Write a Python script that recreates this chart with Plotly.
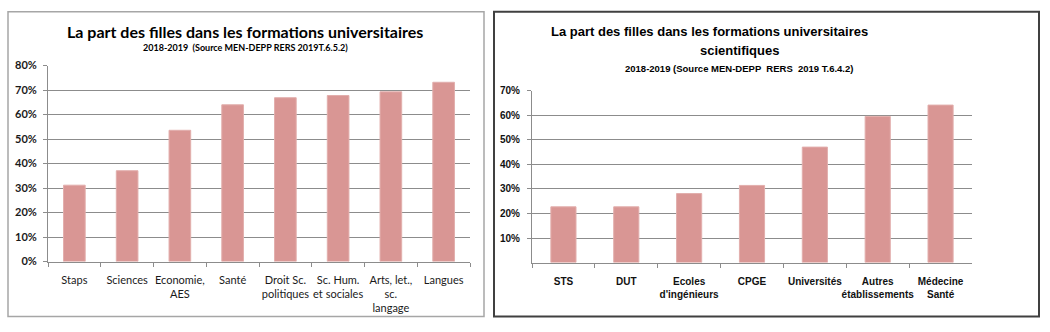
import plotly.graph_objects as go

W, H = 1050, 332

# Left chart data
left_cats = ["Staps", "Sciences", "Economie,<br>AES", "Santé", "Droit Sc.<br>politiques",
             "Sc. Hum.<br>et sociales", "Arts, let.,<br>sc.<br>langage", "Langues"]
left_vals = [0.312, 0.371, 0.536, 0.640, 0.669, 0.678, 0.693, 0.732]
left_ticks = [0, 0.1, 0.2, 0.3, 0.4, 0.5, 0.6, 0.7, 0.8]
left_ticklabels = ["0%", "10%", "20%", "30%", "40%", "50%", "60%", "70%", "80%"]

# Right chart data
right_cats = ["STS", "DUT", "Ecoles<br>d'ingénieurs", "CPGE", "Universités",
              "Autres<br>établissements", "Médecine<br>Santé"]
right_vals = [0.227, 0.227, 0.281, 0.314, 0.470, 0.595, 0.641]
right_ticks = [0.1, 0.2, 0.3, 0.4, 0.5, 0.6, 0.7]
right_ticklabels = ["10%", "20%", "30%", "40%", "50%", "60%", "70%"]

BAR = "#d99694"
BAR_EDGE = "#e2aeac"
GRID = "#8c8c8c"


def px_x(x):
    return x / W


def px_y(y):
    return 1 - y / H


fig = go.Figure()
fig.add_trace(go.Bar(x=left_cats, y=left_vals, xaxis="x", yaxis="y",
                     marker=dict(color=BAR, line=dict(color=BAR_EDGE, width=1)),
                     width=0.41, showlegend=False, hoverinfo="skip"))
fig.add_trace(go.Bar(x=right_cats, y=right_vals, xaxis="x2", yaxis="y2",
                     marker=dict(color=BAR, line=dict(color=BAR_EDGE, width=1)),
                     width=0.40, showlegend=False, hoverinfo="skip"))

LFONT = "Lato, 'Open Sans', sans-serif"
RFONT = "Arial, 'Liberation Sans', sans-serif"

fig.update_layout(
    width=W, height=H, margin=dict(l=0, r=0, t=0, b=0),
    paper_bgcolor="white", plot_bgcolor="white",
    xaxis=dict(domain=[px_x(48), px_x(470)], anchor="y", type="category",
               showline=True, linecolor=GRID, linewidth=1,
               ticks="outside", tickson="boundaries", ticklen=4, tickcolor=GRID,
               ticklabelstandoff=8,
               tickfont=dict(family=LFONT, size=11, color="#1a1a1a"),
               showgrid=False, tickangle=0),
    yaxis=dict(domain=[px_y(265), px_y(61)], anchor="x", range=[0, 0.8],
               tickvals=left_ticks, ticktext=left_ticklabels,
               showline=True, linecolor=GRID, linewidth=1,
               ticks="outside", ticklen=4, tickcolor=GRID,
               ticklabelstandoff=4,
               showgrid=True, gridcolor=GRID, gridwidth=1, zeroline=False,
               tickfont=dict(family=LFONT, size=11, color="#1a1a1a", weight="bold")),
    xaxis2=dict(domain=[px_x(532), px_x(972)], anchor="y2", type="category",
                showline=True, linecolor=GRID, linewidth=1,
                ticks="outside", tickson="boundaries", ticklen=4, tickcolor=GRID,
                ticklabelstandoff=9,
                tickfont=dict(family=RFONT, size=10, color="#111111", weight="bold"),
                showgrid=False, tickangle=0),
    yaxis2=dict(domain=[px_y(266), px_y(87)], anchor="x2", range=[0, 0.7],
                tickvals=right_ticks, ticktext=right_ticklabels,
                showline=True, linecolor=GRID, linewidth=1,
                ticks="outside", ticklen=4, tickcolor=GRID,
                ticklabelstandoff=5,
                showgrid=True, gridcolor=GRID, gridwidth=1, zeroline=False,
                tickfont=dict(family=RFONT, size=10, color="#111111", weight="bold")),
    bargap=0.59,
)

# panel borders
fig.add_shape(type="rect", xref="paper", yref="paper",
              x0=px_x(8), x1=px_x(484), y0=px_y(322), y1=px_y(5),
              line=dict(color="#a6a6a6", width=1.5), fillcolor="rgba(0,0,0,0)", layer="below")
fig.add_shape(type="rect", xref="paper", yref="paper",
              x0=px_x(494), x1=px_x(1039), y0=px_y(322), y1=px_y(5),
              line=dict(color="#404040", width=2), fillcolor="rgba(0,0,0,0)", layer="below")

# titles
fig.add_annotation(xref="paper", yref="paper", x=px_x(245), y=px_y(25),
                   text="La part des filles dans les formations universitaires",
                   showarrow=False, xanchor="center", yanchor="middle",
                   font=dict(family=LFONT, size=16, color="#000000", weight="bold"))
fig.add_annotation(xref="paper", yref="paper", x=px_x(245), y=px_y(42),
                   text="2018-2019  (Source MEN-DEPP RERS 2019T.6.5.2)",
                   showarrow=False, xanchor="center", yanchor="middle",
                   font=dict(family=LFONT, size=9, color="#000000", weight="bold"))
fig.add_annotation(xref="paper", yref="paper", x=px_x(709), y=px_y(25),
                   text="La part des filles dans les formations universitaires",
                   showarrow=False, xanchor="center", yanchor="middle",
                   font=dict(family=RFONT, size=13, color="#000000", weight="bold"))
fig.add_annotation(xref="paper", yref="paper", x=px_x(739), y=px_y(45),
                   text="scientifiques",
                   showarrow=False, xanchor="center", yanchor="middle",
                   font=dict(family=RFONT, size=13, color="#000000", weight="bold"))
fig.add_annotation(xref="paper", yref="paper", x=px_x(739), y=px_y(64),
                   text="2018-2019 (Source MEN-DEPP  RERS  2019 T.6.4.2)",
                   showarrow=False, xanchor="center", yanchor="middle",
                   font=dict(family=RFONT, size=9.5, color="#000000", weight="bold"))

fig.write_html("out.html")
